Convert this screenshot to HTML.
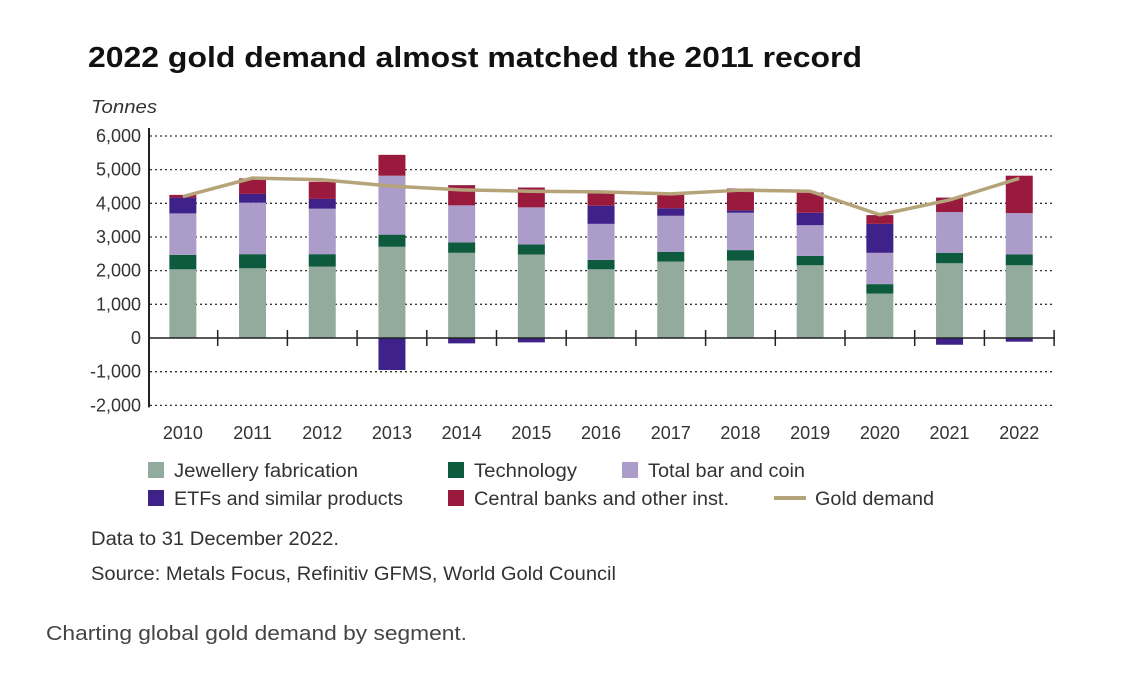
<!DOCTYPE html>
<html><head><meta charset="utf-8"><style>
body{margin:0;background:#fff;}
svg text{font-family:"Liberation Sans",sans-serif;}
</style></head><body>
<svg id="chart" width="1132" height="672" xmlns="http://www.w3.org/2000/svg">
<text x="88" y="67" font-size="29" font-weight="bold" fill="#111" textLength="774" lengthAdjust="spacingAndGlyphs">2022 gold demand almost matched the 2011 record</text>
<text x="91" y="113" font-size="18" font-style="italic" fill="#333" textLength="66" lengthAdjust="spacingAndGlyphs">Tonnes</text>
<g id="grid"></g><g id="bars"></g><g id="axes"></g><g id="line"></g>
<g font-size="19" fill="#333">
<rect x="148" y="462" width="16" height="16" fill="#93ab9c"/><text x="174" y="477" textLength="184" lengthAdjust="spacingAndGlyphs">Jewellery fabrication</text>
<rect x="448" y="462" width="16" height="16" fill="#0d5a3f"/><text x="474" y="477" textLength="103" lengthAdjust="spacingAndGlyphs">Technology</text>
<rect x="622" y="462" width="16" height="16" fill="#ab9cc9"/><text x="648" y="477" textLength="157" lengthAdjust="spacingAndGlyphs">Total bar and coin</text>
<rect x="148" y="490" width="16" height="16" fill="#3f2289"/><text x="174" y="505" textLength="229" lengthAdjust="spacingAndGlyphs">ETFs and similar products</text>
<rect x="448" y="490" width="16" height="16" fill="#9a1a3d"/><text x="474" y="505" textLength="255" lengthAdjust="spacingAndGlyphs">Central banks and other inst.</text>
<line x1="774" y1="498" x2="806" y2="498" stroke="#b5a47a" stroke-width="4"/><text x="815" y="505" textLength="119" lengthAdjust="spacingAndGlyphs">Gold demand</text>
</g>
<text x="91" y="545" font-size="19" fill="#333" textLength="248" lengthAdjust="spacingAndGlyphs">Data to 31 December 2022.</text>
<text x="91" y="580" font-size="19" fill="#333" textLength="525" lengthAdjust="spacingAndGlyphs">Source: Metals Focus, Refinitiv GFMS, World Gold Council</text>
<text x="46" y="640" font-size="20" fill="#444" textLength="421" lengthAdjust="spacingAndGlyphs">Charting global gold demand by segment.</text>
</svg>
<script>
const years=["2010","2011","2012","2013","2014","2015","2016","2017","2018","2019","2020","2021","2022"];
const jewellery=[2040,2070,2120,2710,2530,2480,2040,2270,2300,2160,1320,2220,2160];
const technology=[430,420,370,360,310,300,280,290,310,280,280,310,320];
const barCoin=[1230,1530,1350,1750,1100,1100,1070,1070,1110,910,930,1210,1230];
const etfs=[470,260,290,-950,-160,-130,540,220,70,370,860,-200,-110];
const centralBanks=[80,460,510,620,600,590,370,420,650,600,260,430,1110];
const goldDemand=[4200,4750,4700,4510,4400,4360,4340,4280,4390,4360,3660,4100,4740];
const yTicks=[6000,5000,4000,3000,2000,1000,0,-1000,-2000];
const NS="http://www.w3.org/2000/svg";
const x0=148,step=69.7,bw=27;
const y=v=>338-v*0.03367;
const xc=i=>x0+step*(i+0.5);
function mk(tag,attrs,parent){const e=document.createElementNS(NS,tag);for(const k in attrs)e.setAttribute(k,attrs[k]);parent.appendChild(e);return e;}
const grid=document.getElementById('grid'),bars=document.getElementById('bars'),axes=document.getElementById('axes'),lineG=document.getElementById('line');
yTicks.forEach(t=>{
 if(t!==0){const l=mk('line',{x1:150,x2:1054,y1:y(t),y2:y(t),stroke:'#333','stroke-width':1.3,'stroke-dasharray':'2,3'},grid);
 
 }
 const tx=mk('text',{x:141,y:y(t)+6,'text-anchor':'end','font-size':18,fill:'#333'},axes);
 tx.textContent=t.toLocaleString('en-US');
 
 
});
const series=[[jewellery,'#93ab9c','jewellery'],[technology,'#0d5a3f','technology'],[barCoin,'#ab9cc9','bar-coin'],[etfs,'#3f2289','etfs'],[centralBanks,'#9a1a3d','central-banks']];
years.forEach((yr,i)=>{
 let pos=0,neg=0;
 series.forEach(([arr,col,nm])=>{
  const v=arr[i];let a,b;
  if(v>=0){a=pos;b=pos+v;pos=b;}else{a=neg;b=neg+v;neg=b;}
  const r=mk('rect',{x:xc(i)-bw/2,y:Math.min(y(a),y(b)),width:bw,height:Math.abs(y(a)-y(b)),fill:col},bars);
  
  
 });
 const tx=mk('text',{x:xc(i),y:439,'text-anchor':'middle','font-size':18,fill:'#333'},axes);
 tx.textContent=yr;
 
 
});
const va=mk('line',{x1:149,x2:149,y1:128,y2:y(-2000)+2,stroke:'#222','stroke-width':2},axes);


const ha=mk('line',{x1:148,x2:1055,y1:y(0),y2:y(0),stroke:'#222','stroke-width':1.5},axes);


for(let i=1;i<=years.length;i++){const tk=mk('line',{x1:x0+step*i,x2:x0+step*i,y1:y(0)-8,y2:y(0)+8,stroke:'#222','stroke-width':1.5},axes);
 
 }
const pl=mk('polyline',{points:goldDemand.map((v,i)=>xc(i)+','+y(v)).join(' '),fill:'none',stroke:'#b5a47a','stroke-width':3.5},lineG);


</script>
</body></html>
